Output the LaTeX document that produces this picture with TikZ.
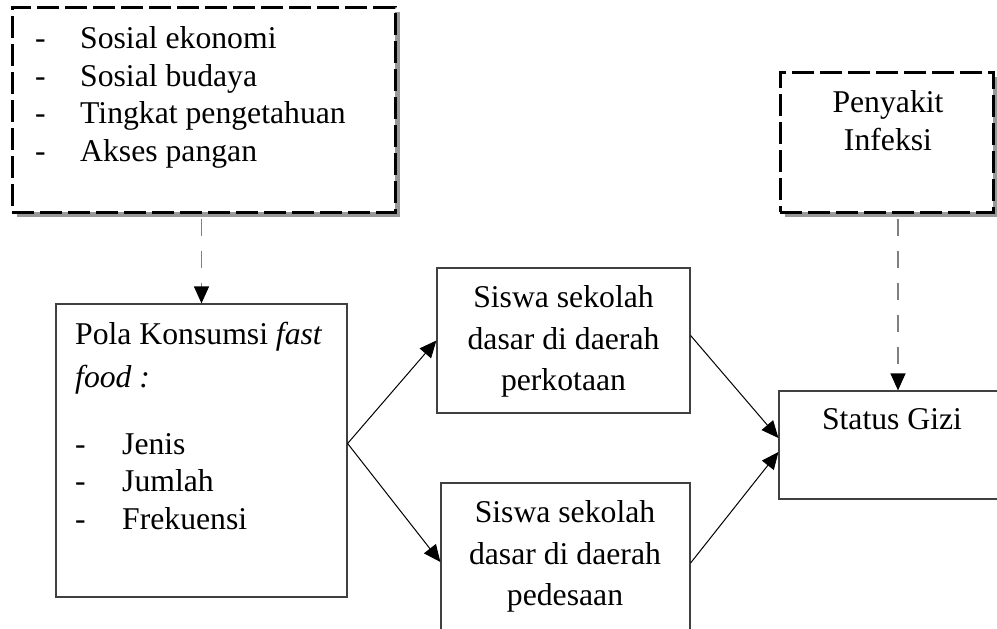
\documentclass[tikz,border=0pt]{standalone}
\usepackage{fontspec}
\setmainfont{Liberation Serif}
\usetikzlibrary{arrows.meta, shadows}
\newcommand{\butir}[2][45pt]{\makebox[#1][l]{-}#2}

\begin{document}
\begin{tikzpicture}[x=1pt, y=-1pt,
  font=\fontsize{31.7}{37.5}\selectfont,
  box/.style={draw=black!75, line width=1.2pt, fill=white, inner sep=0pt},
  factorBox/.style={draw=black, line width=3pt, dash pattern=on 22pt off 6pt, fill=white, inner sep=0pt,
    drop shadow={shadow xshift=5pt, shadow yshift=-5pt, fill=gray!80, opacity=1}},
  txt/.style={inner sep=0pt, align=center},
  wideTxt/.style={txt, font=\fontsize{31.7}{41.5}\selectfont},
  arr/.style={-{Triangle[length=17pt, width=15pt]}, line width=1pt, black},
  dashArr/.style={-{Triangle[length=17pt, width=15pt, black]}, line width=1.2pt, gray, dash pattern=on 17pt off 15pt}
]
\useasboundingbox (0,0) rectangle (997,629);
\clip (0,0) rectangle (997,629);

% faktor luar
\node[factorBox, minimum width=383, minimum height=205] (faktor) at (203.5,109.5) {};
\node[txt, align=left, anchor=north west] (faktorTxt) at (35,26.5)
  {\butir{Sosial ekonomi}\\\butir{Sosial budaya}\\\butir{Tingkat pengetahuan}\\\butir{Akses pangan}};

\node[factorBox, minimum width=213, minimum height=140] (infeksi) at (886.5,142) {};
\node[txt, anchor=north] (infeksiTxt) at (888,90.5) {Penyakit\\[0.5pt]Infeksi};

% alur utama
\node[box, minimum width=291, minimum height=293] (pola) at (201.5,450.5) {};
\node[txt, align=left, anchor=north west] (polaTxt) at (75,321.5)
  {Pola Konsumsi \textit{fast}\\[5.5pt]\textit{food :}\\[29.5pt]\butir[47pt]{Jenis}\\\butir[47pt]{Jumlah}\\\butir[47pt]{Frekuensi}};

\node[box, minimum width=253, minimum height=145] (kota) at (563.5,340.5) {};
\node[wideTxt, anchor=north] (kotaTxt) at (563.5,285.5) {Siswa sekolah\\dasar di daerah\\perkotaan};

\node[box, minimum width=249, minimum height=177] (desa) at (565.5,571.5) {};
\node[wideTxt, anchor=north] (desaTxt) at (565,500.5) {Siswa sekolah\\dasar di daerah\\pedesaan};

\node[box, minimum width=231, minimum height=108] (gizi) at (894.5,445) {};
\node[txt, anchor=north] (giziTxt) at (892,408.5) {Status Gizi};
\coordinate (giziIn) at ([xshift=3.5pt]gizi.north);

\draw[dashArr] ([yshift=-5pt]faktor.south -| pola.north) -- (pola.north);
\draw[dashArr] ([yshift=-5pt]infeksi.south -| giziIn) -- (giziIn);

\draw[arr] ([yshift=7pt]pola.east) -- (kota.west);
\draw[arr] ([yshift=7pt]pola.east) -- ([yshift=9.5pt]desa.west);
\draw[arr] ([yshift=5pt]kota.east) -- ([yshift=7pt]gizi.west);
\draw[arr] ([yshift=8.5pt]desa.east) -- ([yshift=-7pt]gizi.west);

\end{tikzpicture}
\end{document}
